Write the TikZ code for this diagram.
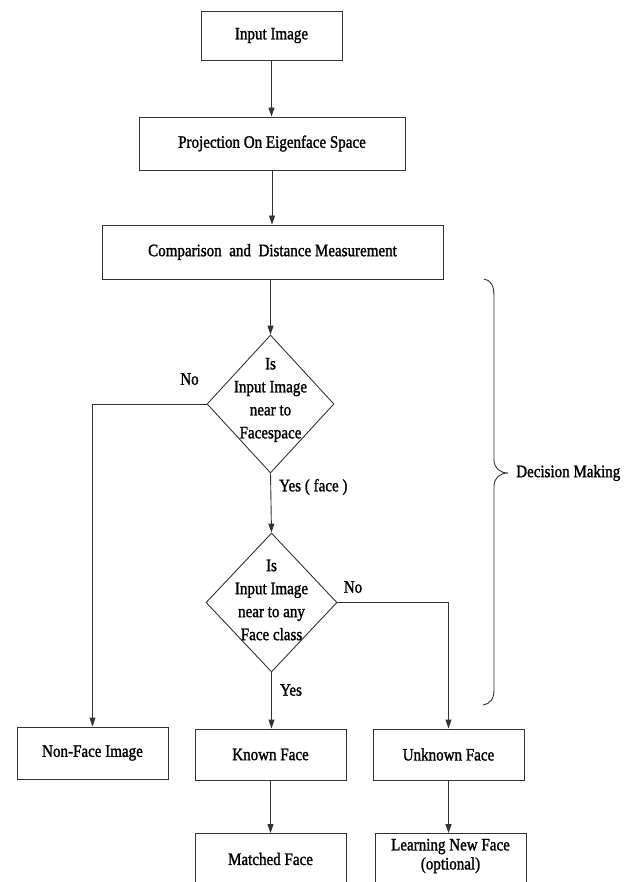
\documentclass[tikz,border=0pt]{standalone}
\usepackage{fontspec}
\newfontfamily\dfont{Liberation Serif}[FakeStretch=0.86, FakeBold=1.4]
\usetikzlibrary{arrows.meta,shapes.geometric}
\definecolor{linec}{HTML}{333333}
\begin{document}
\begin{tikzpicture}[x=1pt,y=-1pt,
  font=\dfont\fontsize{17.5}{23}\selectfont,
  box/.style={draw=linec, line width=0.9pt, inner sep=0pt, fill=white},
  dia/.style={draw=linec, line width=0.9pt, diamond, inner sep=0pt},
  arr/.style={draw=linec, line width=0.9pt, -{Triangle[length=9pt,width=6pt]}},
  ln/.style={draw=linec, line width=0.9pt},
  lbl/.style={inner sep=0pt, align=center}]
\useasboundingbox (0,0) rectangle (634,882);
\clip (0,0) rectangle (634,882);
% boxes
\node[box, minimum width=141, minimum height=49] (in) at (271.5,35.5) {Input Image};
\node[box, minimum width=266, minimum height=53] (proj) at (272,143.5) {Projection On Eigenface Space};
\node[box, minimum width=341, minimum height=54] (comp) at (272.5,252) {Comparison\ \ and\ \ Distance Measurement};
\node[dia, minimum width=127, minimum height=138] (d1) at (270.5,404) {};
\node[lbl] (t1) at (270.5,400) {Is\\Input Image\\near to\\Facespace};
\node[dia, minimum width=131, minimum height=139] (d2) at (271.5,602.5) {};
\node[lbl] (t2) at (271.5,600) {Is\\Input Image\\near to any\\Face class};
\node[box, minimum width=151, minimum height=52] (nf) at (92.5,753) {Non-Face Image};
\node[box, minimum width=151, minimum height=51] (kf) at (270.5,754.5) {Known Face};
\node[box, minimum width=151, minimum height=51] (uf) at (448.5,754.5) {Unknown Face};
\node[box, minimum width=151, minimum height=70, anchor=north] (mf) at (270.5,833) {};
\node[lbl] (mft) at (270.5,859) {Matched Face};
\node[box, minimum width=151, minimum height=70, anchor=north] (lf) at (450.5,833) {};
\node[lbl] (lft) at (450.5,856) {Learning New Face\\[-4pt](optional)};
% connectors
\draw[arr] (in.south) -- (in.south |- proj.north);
\draw[arr] (proj.south) -- (proj.south |- comp.north);
\draw[arr] (comp.south -| d1.north) -- (d1.north);
\draw[arr] (d1.south) -- (d2.north);
\coordinate (c1) at (nf.north |- d1.west);
\draw[arr] (d1.west) -- (c1) -- (nf.north);
\coordinate (c2) at (uf.north |- d2.east);
\draw[arr] (d2.east) -- (c2) -- (uf.north);
\draw[arr] (d2.south) -- (d2.south |- kf.north);
\draw[arr] (kf.south) -- (kf.south |- mf.north);
\draw[arr] (uf.south) -- (uf.south |- lf.north);
% labels
\node[lbl] (no1) at (189.5,379) {No};
\node[lbl, anchor=west] (yes1) at (279,487) {Yes ( face )};
\node[lbl] (no2) at (353,587) {No};
\node[lbl] (yes2) at (291,690) {Yes};
% brace
\draw[ln] (484,279) .. controls (491,280) and (494,286) .. (494,296) -- (494,460)
  .. controls (494,468) and (500,473) .. (508,473)
  .. controls (500,473) and (494,478) .. (494,486) -- (494,690)
  .. controls (494,699) and (490,704) .. (483,705);
\node[lbl, anchor=west] (dm) at (516,473) {Decision Making};
\end{tikzpicture}
\end{document}
